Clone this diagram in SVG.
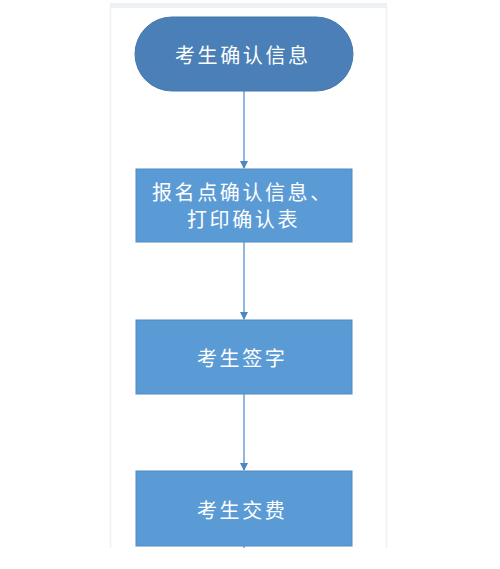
<svg xmlns="http://www.w3.org/2000/svg" width="500" height="569" viewBox="0 0 500 569">
<defs>
<style>
.lbl{font-family:"Noto Sans CJK SC","Noto Sans",sans-serif;font-size:20px;letter-spacing:2.6px;fill:#ffffff;dominant-baseline:central}
.box{fill:#5b9bd5;stroke:#4f8ac0;stroke-width:1}
.con{stroke:#6b9fd3;stroke-width:1.5;fill:none}
</style>
<marker id="arr" markerWidth="8" markerHeight="8" refX="7" refY="4" orient="auto" markerUnits="userSpaceOnUse">
<path d="M0,0 L8,4 L0,8 Z" fill="#4f86bd"/>
</marker>
</defs>
<rect width="500" height="569" fill="#ffffff"/>
<g id="panel">
<rect x="110" y="3" width="277" height="5" fill="#eef1f3"/>
<line x1="110.5" y1="5" x2="110.5" y2="548" stroke="#eef0f2" stroke-width="1.5"/>
<line x1="386.5" y1="5" x2="386.5" y2="548" stroke="#eef0f2" stroke-width="1.5"/>
</g>
<g id="connectors">
<line class="con" x1="244" y1="91" x2="244" y2="168" marker-end="url(#arr)"/>
<line class="con" x1="244" y1="242" x2="244" y2="319" marker-end="url(#arr)"/>
<line class="con" x1="244" y1="394" x2="244" y2="470" marker-end="url(#arr)"/>
<line class="con" x1="244" y1="545" x2="244" y2="548"/>
</g>
<g id="n1">
<rect x="135" y="17" width="218" height="74" rx="37" ry="37" fill="#4a80b7" stroke="#4577ab" stroke-width="1"/>
<text class="lbl" x="175" y="54">考生确认信息</text>
</g>
<g id="n2">
<rect class="box" x="136" y="169" width="216" height="73"/>
<text class="lbl" x="152" y="191">报名点确认信息、</text>
<text class="lbl" x="187" y="218.5">打印确认表</text>
</g>
<g id="n3">
<rect class="box" x="136" y="320" width="216" height="74"/>
<text class="lbl" x="197" y="357">考生签字</text>
</g>
<g id="n4">
<rect class="box" x="136" y="471" width="216" height="75"/>
<text class="lbl" x="197" y="509">考生交费</text>
</g>
</svg>
